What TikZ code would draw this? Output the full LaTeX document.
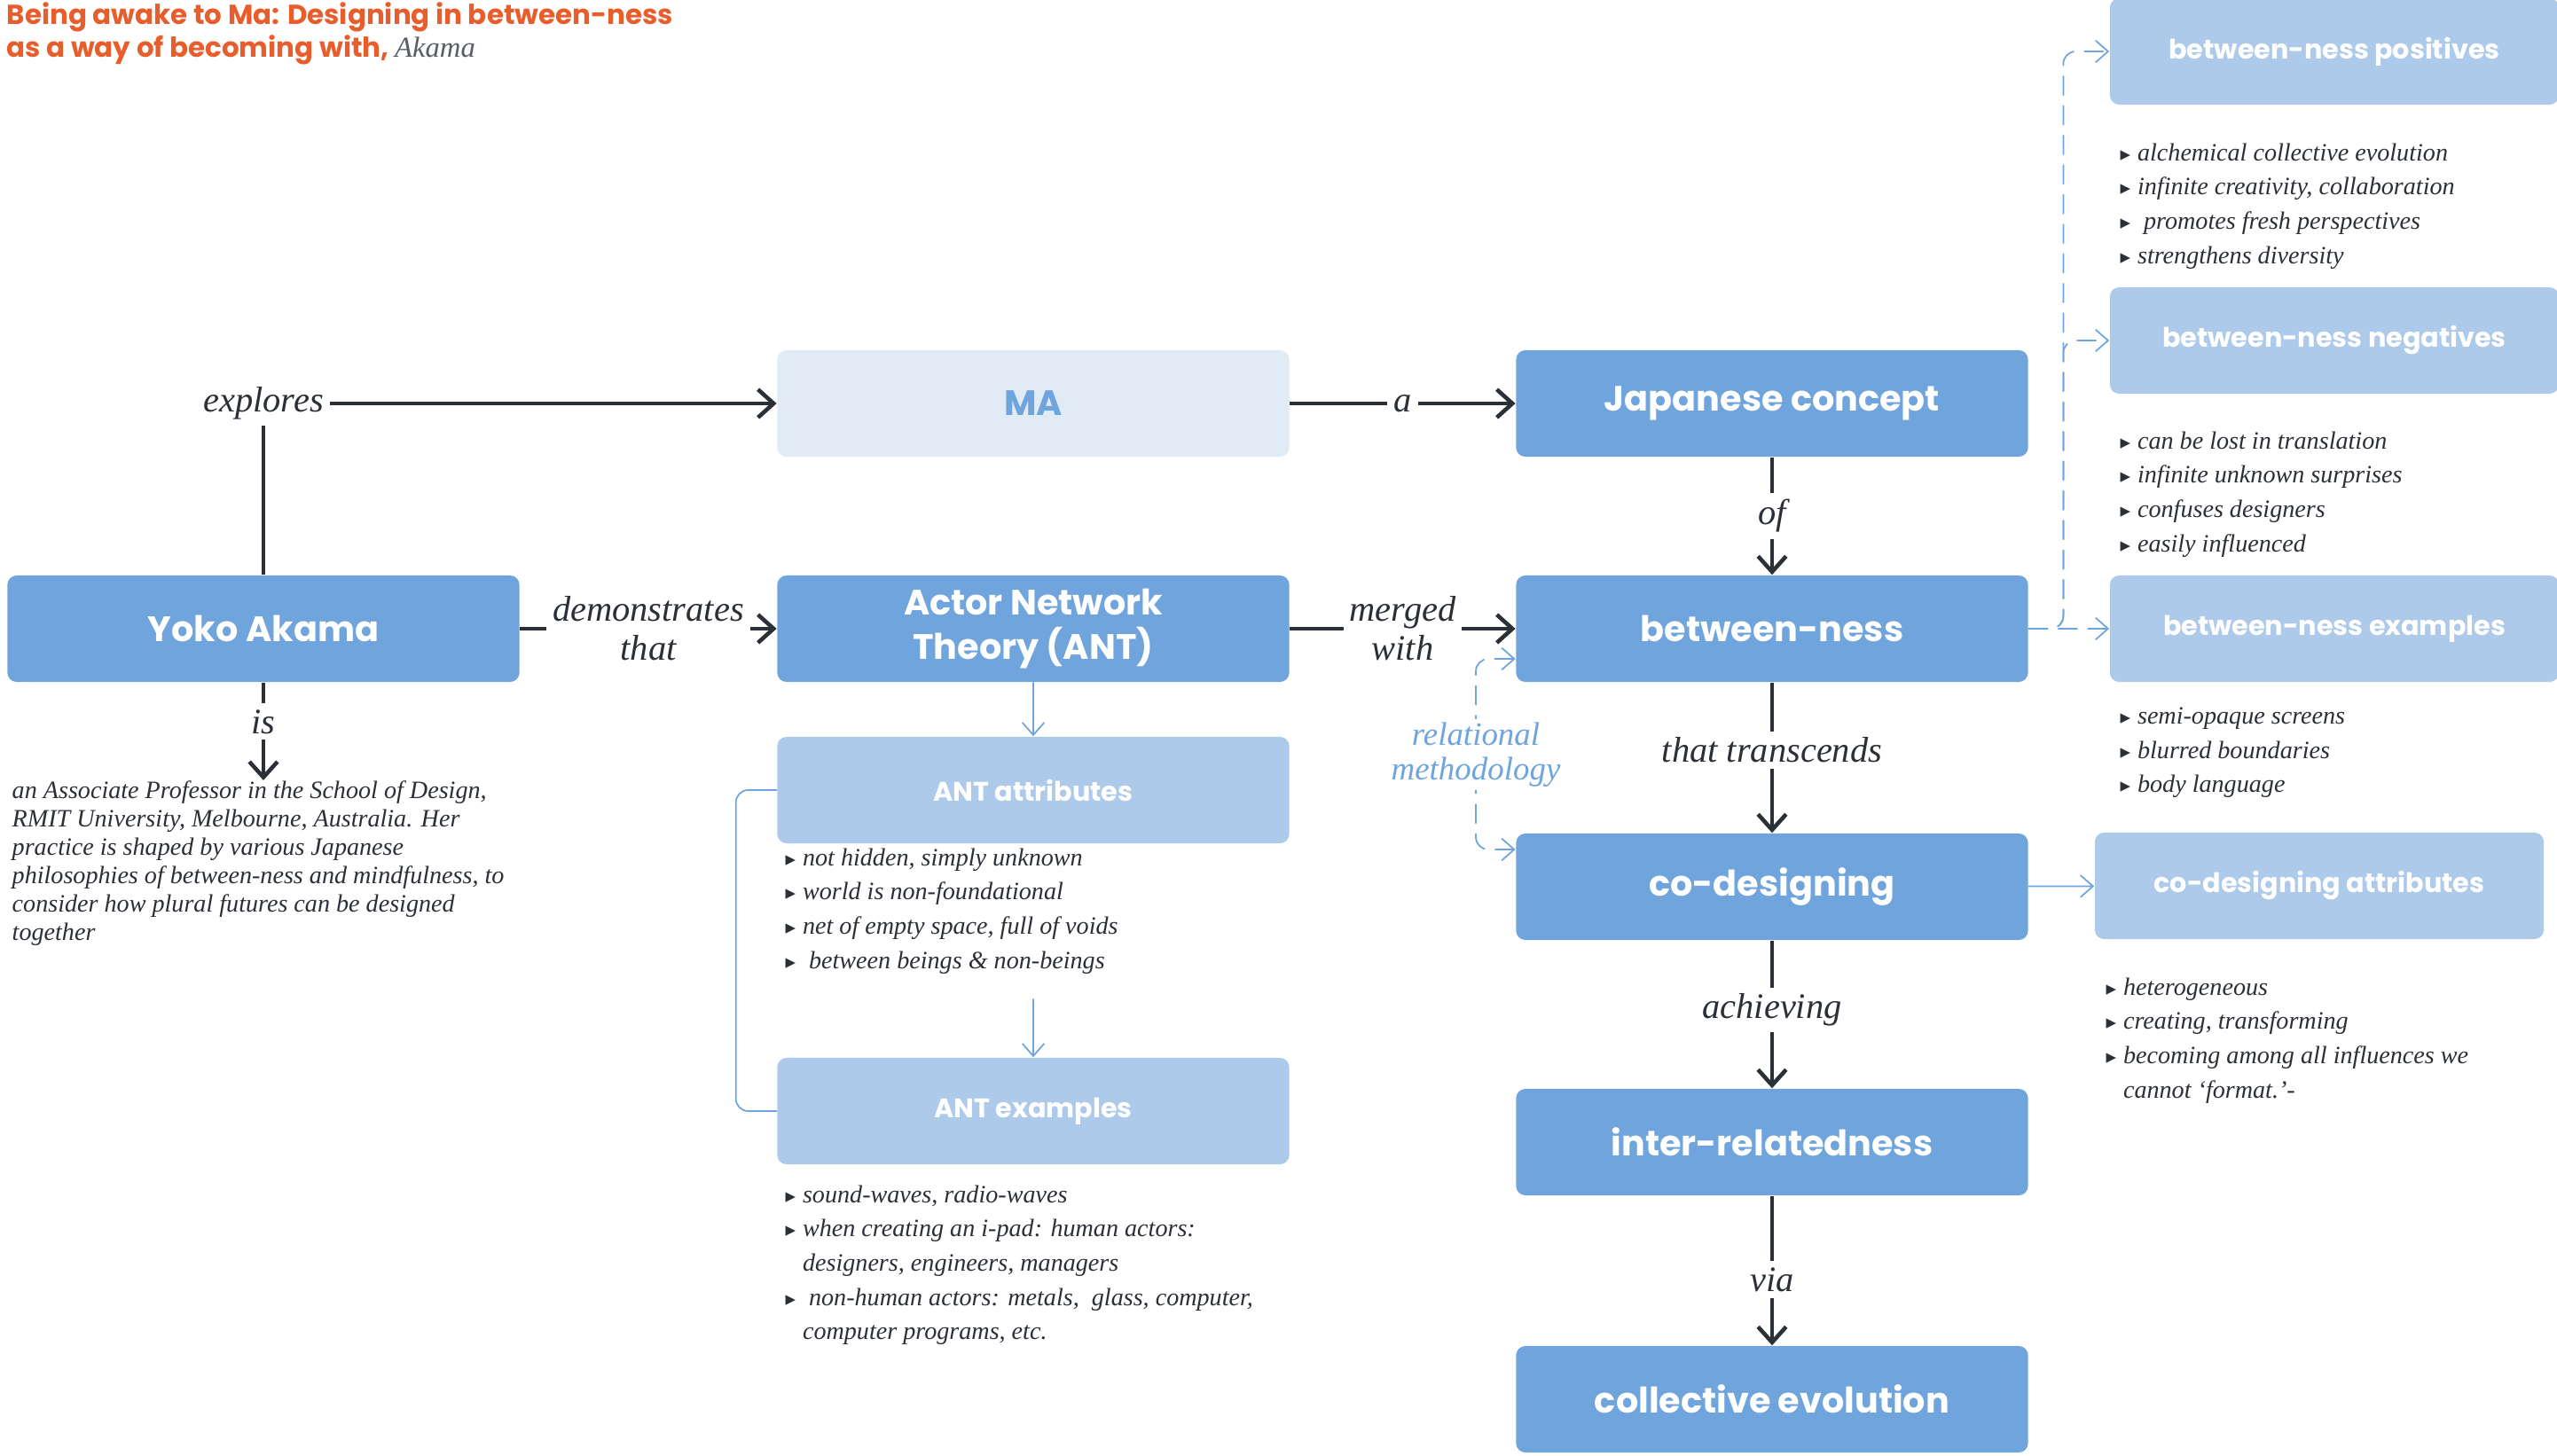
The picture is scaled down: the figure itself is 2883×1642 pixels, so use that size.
\documentclass[tikz,border=0pt]{standalone}
\usepackage{fontspec}
\setmainfont{Liberation Serif}
\newfontfamily\boxfont{Poppins}
\newfontfamily\symfont{DejaVu Sans}
\usetikzlibrary{arrows.meta,calc}

\definecolor{boxdark}{HTML}{6FA4DC}
\definecolor{boxlight}{HTML}{AECAEA}
\definecolor{boxpale}{HTML}{E1EBF6}
\definecolor{ink}{HTML}{2B2F36}
\definecolor{titleorange}{HTML}{E85D2C}
\definecolor{akgray}{HTML}{585D66}

% list bullet and hanging indent
\newcommand{\itm}{\makebox[5.5pt][l]{\symfont\fontsize{6.5}{6.5}\selectfont ▸}}
\newcommand{\cont}{\hspace*{5.5pt}}

\tikzset{
  darkbox/.style={fill=boxdark, text=white, rounded corners=3pt, align=center,
    minimum width=5.77cm, minimum height=1.2cm,
    font=\boxfont\bfseries\fontsize{11.3}{14}\selectfont},
  palebox/.style={darkbox, fill=boxpale, text=boxdark},
  lightbox/.style={darkbox, fill=boxlight, font=\boxfont\bfseries\fontsize{8.6}{10}\selectfont},
  sidebox/.style={lightbox, minimum width=5.06cm},
  elabel/.style={fill=white, text=ink, inner sep=2pt, align=center,
    font=\itshape\fontsize{11.5}{12.5}\selectfont},
  blist/.style={anchor=north west, align=left, inner sep=0pt, text=ink,
    font=\itshape\fontsize{8}{11}\selectfont},
  dline/.style={draw=ink, line width=1.3pt, -{Straight Barb[length=5pt,width=9pt]}},
  bline/.style={draw=boxdark, line width=0.5pt, line cap=round, rounded corners=4pt},
  barrow/.style={bline, -{Straight Barb[length=4pt,width=7pt]}},
  bdash/.style={barrow, dash pattern=on 6pt off 3.5pt}
}

\begin{document}
\begin{tikzpicture}[x=0.01cm,y=0.01cm]
\useasboundingbox (0,0) rectangle (2883,-1642);
\clip (0,0) rectangle (2883,-1642);

% title
\node[anchor=north west, inner sep=0pt, align=left, text=titleorange,
  font=\boxfont\bfseries\fontsize{8.8}{10.5}\selectfont] (title) at (7,-2)
  {Being awake to Ma: Designing in between-ness\\
   as a way of becoming with, {\mdseries\rmfamily\itshape\color{akgray}\fontsize{9.3}{10.5}\selectfont Akama}};

% main boxes
\node[darkbox] (yoko) at (297,-709) {Yoko Akama};
\node[palebox] (ma) at (1165,-455) {MA};
\node[darkbox] (ant) at (1165,-709) {Actor Network\\Theory (ANT)};
\node[lightbox] (antattr) at (1165,-891) {ANT attributes};
\node[lightbox] (antex) at (1165,-1253) {ANT examples};
\node[darkbox] (jap) at (1998,-455) {Japanese concept};
\node[darkbox] (bness) at (1998,-709) {between-ness};
\node[darkbox] (codes) at (1998,-1000) {co-designing};
\node[darkbox] (inter) at (1998,-1288) {inter-relatedness};
\node[darkbox] (colev) at (1998,-1578) {collective evolution};
\node[sidebox] (bpos) at (2632,-58) {between-ness positives};
\node[sidebox] (bneg) at (2632,-384) {between-ness negatives};
\node[sidebox] (bex) at (2632,-709) {between-ness examples};
\node[sidebox] (codattr) at (2615,-999) {co-designing attributes};

% text under the boxes
\node[blist, font=\itshape\fontsize{8}{9.1}\selectfont] (yokodesc) at (13,-880)
  {an Associate Professor in the School of Design,\\
   RMIT University, Melbourne, Australia. Her\\
   practice is shaped by various Japanese\\
   philosophies of between-ness and mindfulness, to\\
   consider how plural futures can be designed\\
   together};
\node[blist] (antattrlist) at (885,-956)
  {\itm not hidden, simply unknown\\
   \itm world is non-foundational\\
   \itm net of empty space, full of voids\\
   \itm\ between beings \& non-beings};
\node[blist] (antexlist) at (885,-1336)
  {\itm sound-waves, radio-waves\\
   \itm when creating an i-pad: human actors:\\
   \cont designers, engineers, managers\\
   \itm\ non-human actors: metals,\ \ glass, computer,\\
   \cont computer programs, etc.};
\node[blist] (bposlist) at (2390,-161)
  {\itm alchemical collective evolution\\
   \itm infinite creativity, collaboration\\
   \itm\ promotes fresh perspectives\\
   \itm strengthens diversity};
\node[blist] (bneglist) at (2390,-486)
  {\itm can be lost in translation\\
   \itm infinite unknown surprises\\
   \itm confuses designers\\
   \itm easily influenced};
\node[blist] (bexlist) at (2390,-797)
  {\itm semi-opaque screens\\
   \itm blurred boundaries\\
   \itm body language};
\node[blist] (codattrlist) at (2374,-1102)
  {\itm heterogeneous\\
   \itm creating, transforming\\
   \itm becoming among all influences we\\
   \cont cannot ‘format.’-};

% dark connectors
\draw[dline] (yoko.north) |- node[elabel, pos=0.5] {explores} (ma.west);
\draw[dline] (yoko) -- node[elabel] {demonstrates\\that} (ant);
\draw[dline] (yoko.south) -- node[elabel, pos=0.4] {is} (yoko.south |- yokodesc.north);
\draw[dline] (ma) -- node[elabel] {a} (jap);
\draw[dline] (ant) -- node[elabel] {merged\\with} (bness);
\draw[dline] (jap) -- node[elabel] {of} (bness);
\draw[dline] (bness) -- node[elabel, pos=0.45] {that transcends} (codes);
\draw[dline] (codes) -- node[elabel, pos=0.47] {achieving} (inter);
\draw[dline] (inter) -- node[elabel, pos=0.56] {via} (colev);

% blue connectors
\draw[barrow] (ant) -- (antattr);
\draw[barrow] ([yshift=-8pt]antattr.south |- antattrlist.south) -- (antex);
\draw[bline] (antattr.west) -- ++(-46,0) |- (antex.west);
\draw[barrow] (codes) -- (codattr);
\draw[bdash] (bness.east) -- ++(39,0) |- (bpos.west);
\draw[bdash] (bness.east) -- ++(39,0) |- (bneg.west);
\draw[bdash] (bness.east) -- (bex.west);

% relational methodology
\coordinate (rm) at (1664,-851);
\draw[bdash, {Straight Barb[length=4pt,width=7pt]}-{Straight Barb[length=4pt,width=7pt]}]
  ($(bness.west)+(0,-34)$) -| (rm) |- ($(codes.west)+(0,42)$);
\node[fill=white, text=boxdark, align=center, inner sep=1pt,
  font=\itshape\fontsize{10.5}{11}\selectfont] (rmlabel) at (rm) {relational\\methodology};
\end{tikzpicture}
\end{document}
